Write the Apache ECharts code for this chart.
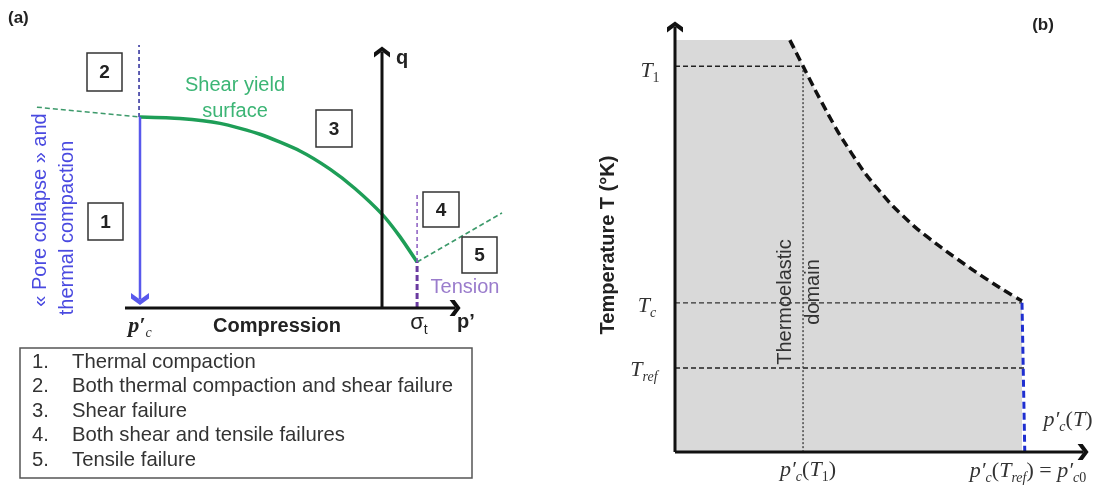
<!DOCTYPE html>
<html>
<head>
<meta charset="utf-8">
<script src="https://cdn.jsdelivr.net/npm/echarts@6/dist/echarts.min.js"></script>
<style>
html, body { margin: 0; padding: 0; background: #fff; }
#chart { width: 1110px; height: 490px; }
</style>
</head>
<body>
<div id="chart"></div>
<script>
// ---- panel (a): p' with the q axis at 0 and p'c = -10 ----
var yieldP = [-10, -8.35, -6.69, -5.04, -3.39, -2.15, -1.12, 0, 0.74, 1.45];
var yieldQ = [7.89, 7.83, 7.63, 7.18, 6.49, 5.74, 4.94, 3.88, 2.95, 1.90];
var capLeftP = [-14.26, -10];
var capLeftQ = [8.3, 7.89];
var tensionP = [1.45, 4.96];
var tensionQ = [1.90, 3.93];
var pcA = -10, sigmaT = 1.45;
var regionLabels = ['1', '2', '3', '4', '5'];
var regionNames = [
    'Thermal compaction',
    'Both thermal compaction and shear failure',
    'Shear failure',
    'Both shear and tensile failures',
    'Tensile failure'
];

// ---- panel (b): p'c(Tref) = 100 ----
var curveP = [33.1, 36.9, 40.3, 44.1, 47.6, 54.8, 62.0, 69.2, 76.9, 85.9, 93.7, 100];
var curveT = [118.7, 111.2, 104.5, 97.4, 91.2, 80.3, 71.7, 64.8, 58.8, 52.4, 47.3, 43.5];
var pc0 = 100, pcT1 = 36.9;
var T1 = 111.2, Tc = 43, Tref = 24.2, Ttop = 118.7;

var SANS = '"Liberation Sans", Arial, sans-serif';
var SERIF = '"Liberation Serif", "DejaVu Serif", serif';
var chev = 'path://M0,0L10,7L20,0L20,6L10,13L0,6Z';

function zip(a, b) {
    var out = [];
    for (var i = 0; i < a.length; i++) out.push([a[i], b[i]]);
    return out;
}

function seg(name, data, color, width, dash, g, extra) {
    var s = {
        name: name,
        type: 'line',
        xAxisIndex: g, yAxisIndex: g,
        data: data,
        symbol: 'none',
        showSymbol: true,
        silent: true,
        lineStyle: { color: color, width: width, type: dash || 'solid' },
        itemStyle: { color: color }
    };
    for (var k in extra) s[k] = extra[k];
    return s;
}

function arrowEnd(p, rot, size) {
    return { value: p, symbol: chev, symbolSize: size || [16, 11], symbolRotate: rot, symbolKeepAspect: false };
}

var mathRich = {
    i: { fontFamily: SERIF, fontStyle: 'italic', fontSize: 22, lineHeight: 28, verticalAlign: 'middle', fill: '#333', color: '#333' },
    bi: { fontFamily: SERIF, fontStyle: 'italic', fontWeight: 'bold', fontSize: 22, lineHeight: 28, verticalAlign: 'middle', fill: '#222', color: '#222' },
    r: { fontFamily: SERIF, fontSize: 22, lineHeight: 28, verticalAlign: 'middle', fill: '#333', color: '#333' },
    s: { fontFamily: SERIF, fontStyle: 'italic', fontSize: 14, lineHeight: 14, verticalAlign: 'bottom', fill: '#333', color: '#333' },
    sr: { fontFamily: SERIF, fontSize: 14, lineHeight: 14, verticalAlign: 'bottom', fill: '#333', color: '#333' },
    g: { fontFamily: SANS, fontSize: 22, lineHeight: 28, verticalAlign: 'middle', fill: '#222', color: '#222' },
    gs: { fontFamily: SANS, fontSize: 14, lineHeight: 14, verticalAlign: 'bottom', fill: '#222', color: '#222' }
};

function txt(x, y, text, o) {
    o = o || {};
    var al = o.align || 'center';
    return {
        type: 'text', x: x, y: y, rotation: o.rot || 0, silent: true, z: 10,
        style: {
            text: text,
            fill: o.color || '#222',
            font: o.font || ('20px ' + SANS),
            align: al, textAlign: al,
            verticalAlign: 'middle', textVerticalAlign: 'middle',
            rich: o.rich
        }
    };
}

function box(x, y, w, h, num) {
    return [
        { type: 'rect', z: 5, silent: true, shape: { x: x, y: y, width: w, height: h },
          style: { fill: '#fff', stroke: '#333', lineWidth: 1.5 } },
        txt(x + w / 2, y + h / 2 + 1, num, { font: 'bold 19px ' + SANS })
    ];
}

var els = [];
els.push(txt(8, 18, '(a)', { font: 'bold 17px ' + SANS, align: 'left' }));
els.push(txt(1043, 25, '(b)', { font: 'bold 17px ' + SANS }));
els = els.concat(box(87, 53, 35, 38, regionLabels[1]));
els = els.concat(box(316, 110, 36, 37, regionLabels[2]));
els = els.concat(box(88, 203, 35, 37, regionLabels[0]));
els = els.concat(box(423, 192, 36, 35, regionLabels[3]));
els = els.concat(box(462, 237, 35, 36, regionLabels[4]));

els.push(txt(235, 85, 'Shear yield', { color: '#3cb575' }));
els.push(txt(235, 111, 'surface', { color: '#3cb575' }));
els.push(txt(465, 287, 'Tension', { color: '#9a7ccc' }));
els.push(txt(40, 210, '\u00ab Pore collapse \u00bb and', { rot: Math.PI / 2, color: '#4a4ae0' }));
els.push(txt(67, 228, 'thermal compaction', { rot: Math.PI / 2, color: '#4a4ae0' }));
els.push(txt(402, 58, 'q', { font: 'bold 20px ' + SANS }));
els.push(txt(466, 322, 'p\u2019', { font: 'bold 20px ' + SANS }));
els.push(txt(277, 326, 'Compression', { font: 'bold 20px ' + SANS }));
els.push(txt(140, 326, '{bi|p\u2032}{s|c}', { rich: mathRich }));
els.push(txt(419, 323, '{g|\u03c3}{gs|t}', { rich: mathRich }));

// legend box
els.push({ type: 'rect', z: 5, silent: true, shape: { x: 20, y: 348, width: 452, height: 130 },
           style: { fill: 'none', stroke: '#555', lineWidth: 1.5 } });
for (var i = 0; i < regionNames.length; i++) {
    var ly = 362 + i * 24.5;
    els.push(txt(32, ly, regionLabels[i] + '.', { align: 'left', color: '#333', font: '20.3px ' + SANS }));
    els.push(txt(72, ly, regionNames[i], { align: 'left', color: '#333', font: '20.3px ' + SANS }));
}

// panel (b) labels
els.push(txt(608, 245, 'Temperature T (\u00b0K)', { rot: Math.PI / 2, font: 'bold 20px ' + SANS }));
els.push(txt(785, 302, 'Thermoelastic', { rot: Math.PI / 2, color: '#333' }));
els.push(txt(813, 292, 'domain', { rot: Math.PI / 2, color: '#333' }));
els.push(txt(650, 71, '{i|T}{sr|1}', { rich: mathRich }));
els.push(txt(647, 306, '{i|T}{s|c}', { rich: mathRich }));
els.push(txt(644, 370, '{i|T}{s|ref}', { rich: mathRich }));
els.push(txt(808, 470, '{i|p\u2032}{s|c}{r|(}{i|T}{sr|1}{r|)}', { rich: mathRich }));
els.push(txt(1028, 471, '{i|p\u2032}{s|c}{r|(}{i|T}{s|ref}{r|) = }{i|p\u2032}{s|c}{sr|0}', { rich: mathRich }));
els.push(txt(1068, 420, '{i|p\u2032}{s|c}{r|(}{i|T}{r|)}', { rich: mathRich }));

var S = 24.2;  // px per unit, panel (a)
var B = 3.47;  // px per unit, panel (b)

var option = {
    animation: false,
    backgroundColor: '#fff',
    grid: [
        { left: 382 - 15 * S, top: 308 - 11.5 * S, width: 20.5 * S, height: 12.5 * S },
        { left: 675 - 5 * B, top: 452 - 125 * B, width: 130 * B, height: 130 * B }
    ],
    xAxis: [
        { type: 'value', gridIndex: 0, min: -15, max: 5.5, show: false },
        { type: 'value', gridIndex: 1, min: -5, max: 125, show: false }
    ],
    yAxis: [
        { type: 'value', gridIndex: 0, min: -1, max: 11.5, show: false },
        { type: 'value', gridIndex: 1, min: -5, max: 125, show: false }
    ],
    graphic: { elements: els },
    series: [
        // (a)
        seg('cap', zip(capLeftP, capLeftQ), '#3d9a6b', 1.5, [5, 3], 0),
        seg('yield', zip(yieldP, yieldQ), '#1e9e57', 3.5, 'solid', 0, { smooth: 0.2 }),
        seg('tensionBranch', zip(tensionP, tensionQ), '#3d9a6b', 1.6, [5, 3], 0),
        seg('pcUp', [[pcA - 0.04, yieldQ[0]], [pcA - 0.04, 10.87]], '#2b2b9a', 1.5, [4, 3], 0),
        seg('compaction', [[pcA, yieldQ[0]], arrowEnd([pcA, 0.37], 0, [18, 12])], '#5858ec', 2.5, 'solid', 0),
        seg('sigmaUp', [[sigmaT, yieldQ[9]], [sigmaT, 4.67]], '#8a5cc0', 1.5, [4, 3], 0),
        seg('sigmaLow', [[sigmaT, 0], [sigmaT, yieldQ[9]]], '#6a3aa0', 3, [6, 3], 0),
        seg('pAxis', [[-10.62, 0], arrowEnd([3.02, 0], 90)], '#111', 3, 'solid', 0),
        seg('qAxis', [[0, 0], arrowEnd([0, 10.58], 180)], '#111', 3, 'solid', 0),
        // (b)
        seg('domain', [[0, Ttop]].concat(zip(curveP, curveT)), '#d9d9d9', 0, 'solid', 1,
            { areaStyle: { color: '#d9d9d9', opacity: 1 }, smooth: 0.2 }),
        seg('T1', [[0, T1], [pcT1, T1]], '#222', 1.5, [5, 3], 1),
        seg('Tc', [[0, Tc], [pc0, Tc]], '#333', 1.3, [5, 3], 1),
        seg('Tref', [[0, Tref], [101.4, Tref]], '#222', 1.5, [5, 3], 1),
        seg('pcT1', [[pcT1, T1], [pcT1, 0]], '#333', 1.3, [2, 2], 1),
        seg('pcT', zip(curveP, curveT), '#111', 3.5, [9, 5], 1, { smooth: 0.2 }),
        seg('pcRef', [[pc0, Tc], [pc0 + 0.8, 0]], '#1f2fd0', 3, [7, 4], 1),
        seg('Taxis', [[0, 0], arrowEnd([0, 122.5], 180)], '#111', 3, 'solid', 1),
        seg('paxisB', [[0, 0], arrowEnd([117.6, 0], 90)], '#111', 3, 'solid', 1)
    ]
};

var myChart = echarts.init(document.getElementById('chart'));
myChart.setOption(option);
</script>
</body>
</html>
